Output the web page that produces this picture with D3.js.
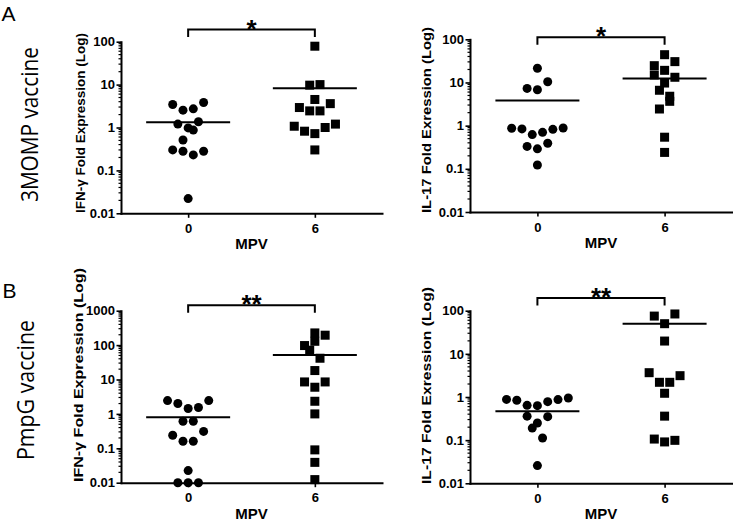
<!DOCTYPE html>
<html><head><meta charset="utf-8">
<script src="https://cdn.jsdelivr.net/npm/d3@7"></script>
<style>body{margin:0;background:#fff} svg{display:block}</style>
</head><body>
<svg id="chart" width="733" height="523"></svg>
<script>
// ---------- DATA ----------
const groups = ["0", "6"];
const xTitle = "MPV";
const rowLabels = ["3MOMP vaccine", "PmpG vaccine"];
const panelLetters = ["A", "B"];
const yTitles = ["IFN-\u03b3 Fold Expression (Log)", "IL-17 Fold Exression (Log)",
                 "IFN-\u03b3 Fold Expression (Log)", "IL-17 Fold Exression (Log)"];
const ticks100 = [0.01, 0.1, 1, 10, 100];
const ticks1000 = [0.01, 0.1, 1, 10, 100, 1000];
const tickLabels100 = ["0.01", "0.1", "1", "10", "100"];
const tickLabels1000 = ["0.01", "0.1", "1", "10", "100", "1000"];
const sigLabels = ["*", "*", "**", "**"];
const bracketLevels = [192, 111, 1436, 196];

// 3MOMP vaccine, IFN-gamma
const ifnA_0 = [3.44, 0.30, 1.2, 2.54, 0.51, 0.28, 0.98, 0.022, 2.72, 0.87, 0.23, 1.36, 3.83, 0.28];
const ifnA_6 = [1.07, 2.92, 0.82, 9.7, 2.44, 78.5, 4.5, 0.72, 0.30, 10, 2.44, 1.0, 3.6, 1.2];
const ifnA_means = [1.33, 8.26];
// 3MOMP vaccine, IL-17
const il17A_0 = [0.87, 0.84, 7.3, 0.33, 0.62, 21.3, 6.8, 0.29, 0.123, 0.70, 10.4, 0.39, 0.82, 0.88];
const il17A_6 = [24.5, 14.9, 6.6, 2.43, 44, 19.1, 9.7, 0.54, 0.24, 3.66, 30.4, 13.2, 4.8];
const il17A_means = [3.8, 12.3];
// PmpG vaccine, IFN-gamma
const ifnB_0 = [2.44, 0.24, 2.0, 0.01, 0.61, 0.16, 1.43, 0.0225, 0.01, 0.61, 0.16, 1.53, 0.01, 2.44, 0.31];
const ifnB_6 = [97, 8.5, 226, 71, 18.2, 5.96, 2.33, 1.0, 0.09, 0.039, 0.0123, 129, 41.5, 194, 8.5];
const ifnB_means = [0.80, 51.9];
// PmpG vaccine, IL-17
const il17B_0 = [0.88, 0.84, 0.64, 0.36, 0.19, 0.63, 0.25, 0.0257, 0.112, 0.78, 0.35, 0.87, 0.95];
const il17B_6 = [3.66, 75, 0.106, 2.19, 50, 19.8, 1.22, 0.36, 0.091, 2.19, 84, 0.099, 3.12];
const il17B_means = [0.466, 50];

// ---------- LAYOUT ----------
const panels = [
  {x0: 121, x1: 382, yTop: 41.7, yBot: 213.3, ticks: ticks100, labels: tickLabels100,
   series: [ifnA_0, ifnA_6], means: ifnA_means, title: yTitles[0], titleX: 80.5, titleY: 123, titleLen: 180,
   sig: sigLabels[0], bracket: bracketLevels[0]},
  {x0: 470, x1: 732, yTop: 39.3, yBot: 212, ticks: ticks100, labels: tickLabels100,
   series: [il17A_0, il17A_6], means: il17A_means, title: yTitles[1], titleX: 426, titleY: 120, titleLen: 186,
   sig: sigLabels[1], bracket: bracketLevels[1]},
  {x0: 121, x1: 382, yTop: 310.7, yBot: 482.7, ticks: ticks1000, labels: tickLabels1000,
   series: [ifnB_0, ifnB_6], means: ifnB_means, title: yTitles[2], titleX: 78.5, titleY: 375, titleLen: 214,
   sig: sigLabels[2], bracket: bracketLevels[2]},
  {x0: 470, x1: 732, yTop: 310.7, yBot: 483.3, ticks: ticks100, labels: tickLabels100,
   series: [il17B_0, il17B_6], means: il17B_means, title: yTitles[3], titleX: 426, titleY: 385.5, titleLen: 197,
   sig: sigLabels[3], bracket: bracketLevels[3]}
];

const svg = d3.select("#chart");
const AXIS_FONT = "'Liberation Sans', Arial, sans-serif";
const ROW_T = 10.6, SPACING = 10.3, R = 4.5, SQ = 9, HALF_MEAN = 42;

function swarm(vals, y, cx) {
  const idx = vals.map((v, i) => i).sort((a, b) => vals[a] - vals[b] || a - b);
  const pos = new Array(vals.length);
  let i = 0;
  while (i < idx.length) {
    const y0 = y(vals[idx[i]]);
    const row = [idx[i]];
    let j = i + 1;
    while (j < idx.length && Math.abs(y(vals[idx[j]]) - y0) < ROW_T) { row.push(idx[j]); j++; }
    row.sort((a, b) => a - b);
    row.forEach((k, r) => { pos[k] = cx + (r - (row.length - 1) / 2) * SPACING; });
    i = j;
  }
  return pos;
}

panels.forEach(p => {
  const g = svg.append("g");
  const x = d3.scalePoint().domain(groups).range([p.x0, p.x1]).padding(0.53);
  const ymax = p.ticks[p.ticks.length - 1];
  const y = d3.scaleLog().domain([0.01, ymax]).range([p.yBot, p.yTop]);

  // minor ticks
  const minors = [];
  for (let e = -2; Math.pow(10, e) < ymax; e++)
    for (let k = 2; k <= 9; k++) minors.push(k * Math.pow(10, e));
  g.append("g").selectAll("line").data(minors).join("line")
    .attr("x1", p.x0 - 2.5).attr("x2", p.x0).attr("y1", d => y(d)).attr("y2", d => y(d))
    .attr("stroke", "#000").attr("stroke-width", 1.2);

  // y axis
  const ya = d3.axisLeft(y).tickValues(p.ticks).tickFormat((d, i) => p.labels[i])
    .tickSize(4.5).tickSizeOuter(0).tickPadding(1.5);
  const yg = g.append("g").attr("transform", `translate(${p.x0},0)`).call(ya);
  yg.select(".domain").attr("stroke-width", 2).attr("stroke-linecap", "square");
  yg.selectAll(".tick line").attr("stroke-width", 1.6);
  yg.selectAll("text").attr("font-family", AXIS_FONT).attr("font-weight", "bold").attr("font-size", 13).attr("fill", "#000");

  // x axis
  const xa = d3.axisBottom(x).tickSize(4.5).tickSizeOuter(0).tickPadding(6);
  const xg = g.append("g").attr("transform", `translate(0,${p.yBot})`).call(xa);
  xg.select(".domain").attr("stroke-width", 2).attr("stroke-linecap", "square");
  xg.selectAll(".tick line").attr("stroke-width", 1.6);
  xg.selectAll("text").attr("font-family", AXIS_FONT).attr("font-weight", "bold").attr("font-size", 13).attr("fill", "#000");

  // x title
  g.append("text").attr("x", (x(groups[0]) + x(groups[1])) / 2).attr("y", p.yBot + 36)
    .attr("text-anchor", "middle").attr("font-family", AXIS_FONT).attr("font-weight", "bold")
    .attr("font-size", 15).text(xTitle);

  // y title
  g.append("text").attr("transform", `translate(${p.titleX},${p.titleY}) rotate(-90)`)
    .attr("text-anchor", "middle").attr("dy", "0.35em")
    .attr("font-family", AXIS_FONT).attr("font-weight", "bold").attr("font-size", 13)
    .attr("textLength", p.titleLen).attr("lengthAdjust", "spacingAndGlyphs")
    .text(p.title);

  // points
  p.series.forEach((vals, gi) => {
    const cx = x(groups[gi]);
    const xs = swarm(vals, y, cx);
    const pts = vals.map((v, i) => ({v, px: xs[i]}));
    if (gi === 0) {
      g.append("g").selectAll("circle").data(pts).join("circle")
        .attr("cx", d => d.px).attr("cy", d => y(d.v)).attr("r", R).attr("fill", "#000");
    } else {
      g.append("g").selectAll("rect").data(pts).join("rect")
        .attr("x", d => d.px - SQ / 2).attr("y", d => y(d.v) - SQ / 2)
        .attr("width", SQ).attr("height", SQ).attr("fill", "#000");
    }
    g.append("line").attr("x1", cx - HALF_MEAN).attr("x2", cx + HALF_MEAN)
      .attr("y1", y(p.means[gi])).attr("y2", y(p.means[gi]))
      .attr("stroke", "#000").attr("stroke-width", 2);
  });

  // significance bracket
  const by = y(p.bracket);
  const bx0 = x(groups[0]), bx1 = x(groups[1]);
  g.append("path").attr("d", `M${bx0},${by + 7.5}V${by}H${bx1}V${by + 7.5}`)
    .attr("fill", "none").attr("stroke", "#000").attr("stroke-width", 2);
  g.append("text").attr("x", (bx0 + bx1) / 2).attr("y", by + 8)
    .attr("text-anchor", "middle").attr("font-family", AXIS_FONT).attr("font-weight", "bold")
    .attr("font-size", 26).text(p.sig);
});

// panel letters and row labels
const LETTER_FONT = "'Liberation Sans', Arial, sans-serif";
const LABEL_FONT = "'Open Sans', 'Noto Sans', sans-serif";
[{t: panelLetters[0], x: 1.5, y: 20.5}, {t: panelLetters[1], x: 2.5, y: 298}].forEach(d => {
  svg.append("text").attr("x", d.x).attr("y", d.y).attr("font-family", LETTER_FONT)
    .attr("font-size", 21).text(d.t);
});
[{t: rowLabels[0], x: 38, y: 124.5, len: 155}, {t: rowLabels[1], x: 33.5, y: 390, len: 140}].forEach(d => {
  svg.append("text").attr("transform", `translate(${d.x},${d.y}) rotate(-90)`)
    .attr("text-anchor", "middle").attr("font-family", LABEL_FONT).attr("font-size", 24)
    .attr("textLength", d.len).attr("lengthAdjust", "spacingAndGlyphs").text(d.t);
});
</script>
</body></html>
